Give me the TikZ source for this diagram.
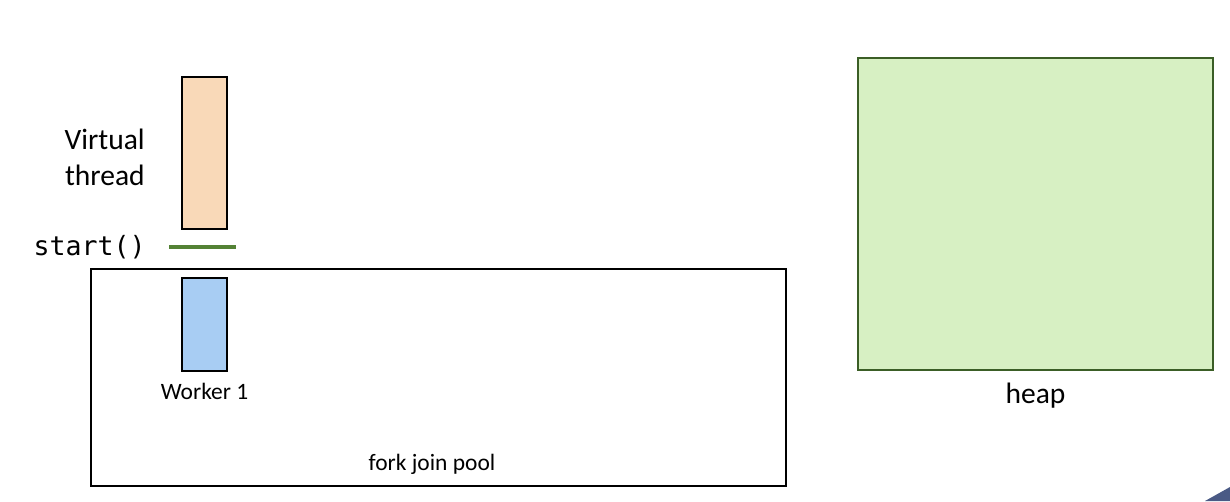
\documentclass[tikz,border=0pt]{standalone}
\usepackage{fontspec}
\setmainfont{Carlito}
\setmonofont{DejaVu Sans Mono}
\usepackage{tikz}

\definecolor{vtfill}{HTML}{F9D9B8}
\definecolor{wkfill}{HTML}{A8CDF3}
\definecolor{heapfill}{HTML}{D7F0C3}
\definecolor{heapline}{HTML}{3B5E26}
\definecolor{startline}{HTML}{548235}
\definecolor{cornerblue}{HTML}{4A5A85}

\tikzset{
  box/.style={draw,line width=1.5pt,inner sep=0pt,outer sep=0pt},
  label/.style={inner sep=0pt,font=\fontsize{16.7}{20}\selectfont}
}

\begin{document}
\begin{tikzpicture}[x=0.025cm,y=-0.025cm]
\useasboundingbox (0,0) rectangle (1230,501);
\node [box,fill=vtfill,minimum width=1.125cm,minimum height=3.8cm] (vthread) at (204.5,153) {};
\node [box,fill=white,minimum width=17.375cm,minimum height=5.425cm] (pool) at (438.5,377.5) {};
\node [box,fill=wkfill,minimum width=1.125cm,minimum height=2.325cm] (worker) at (204.5,324.5) {};
\node [box,draw=heapline,fill=heapfill,minimum width=8.875cm,minimum height=7.8cm] (heap) at (1035.5,214) {};
% labels
\node [inner sep=0pt,anchor=east,align=right,font=\fontsize{21}{25.6}\selectfont] (vtlabel) at (145,157) {Virtual\\thread};
\node [inner sep=0pt,anchor=east,font=\ttfamily\fontsize{18.9}{22}\selectfont] (start) at (146,247) {start()};
\node [label] (wklabel) at (204.5,391) {Worker 1};
\node [label] (poollabel) at (432,464) {fork join pool};
\node [inner sep=0pt,font=\fontsize{21}{25}\selectfont] (heaplabel) at (1035.5,396) {heap};
% the start() line:
\coordinate (s1) at (169,247);
\coordinate (s2) at (236,247);
\draw [line width=2.8pt,startline] (s1)--(s2);
\fill [cornerblue] (1205,501)--(1230,487)--(1230,501)--cycle;
\end{tikzpicture}
\end{document}
